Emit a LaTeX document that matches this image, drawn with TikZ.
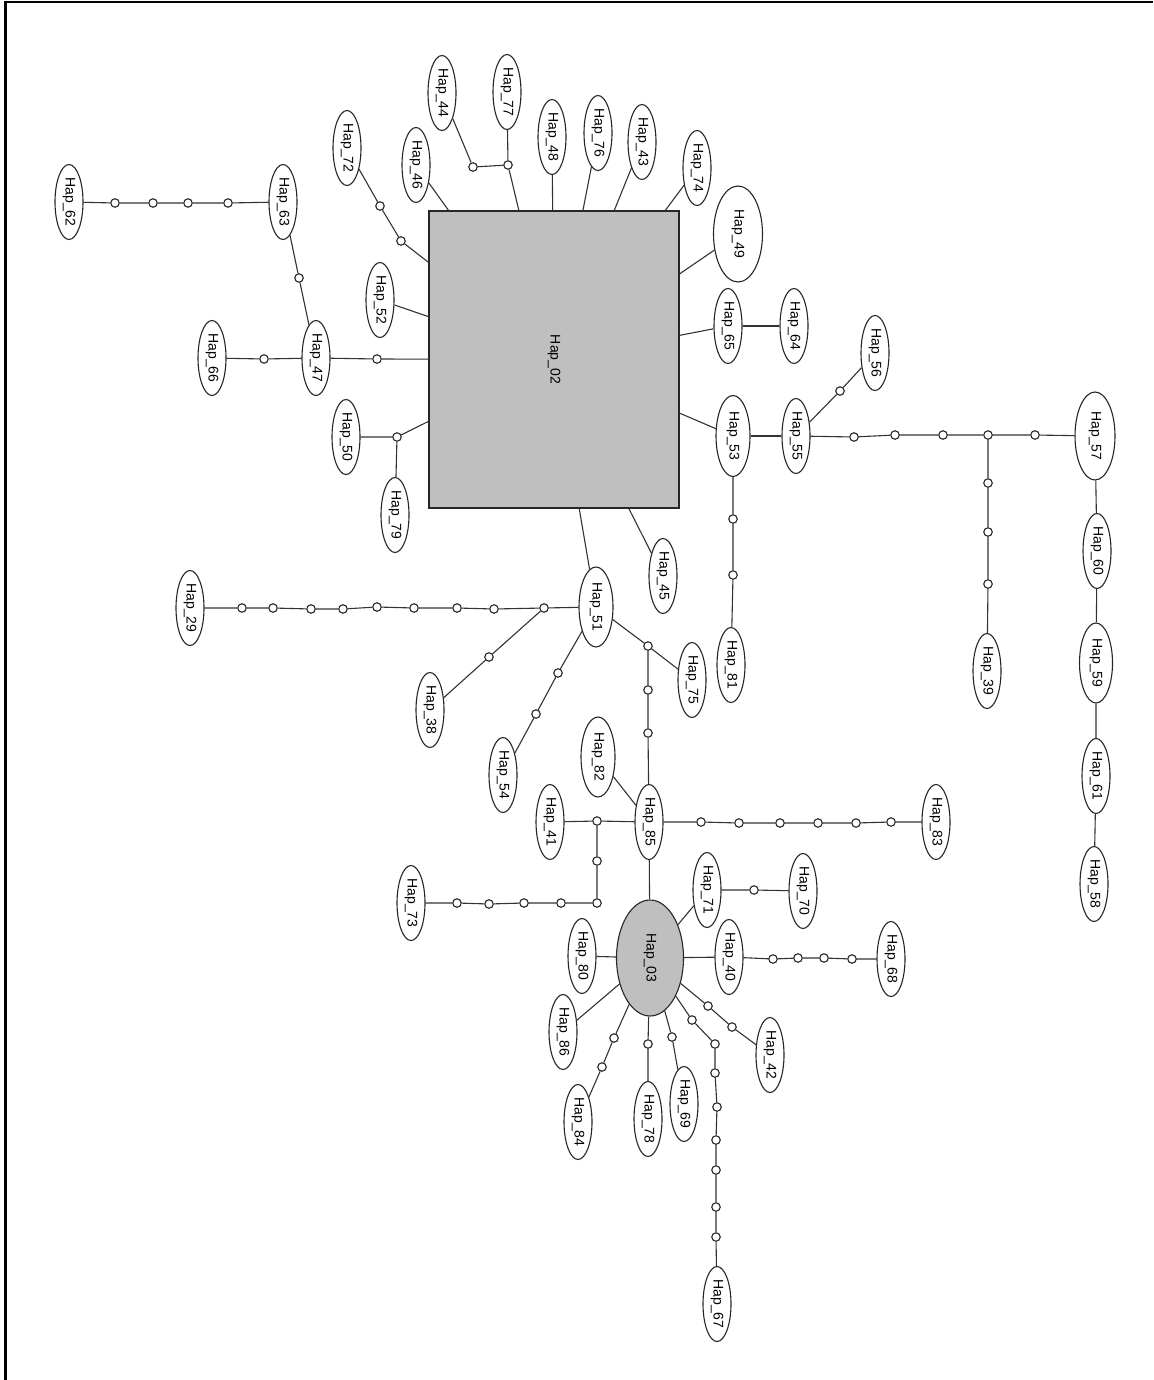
\documentclass[tikz,border=0pt]{standalone}
\usepackage{fontspec}
\setmainfont{Liberation Sans}
\usetikzlibrary{shapes.geometric}
\newcommand{\haplab}[1]{\rotatebox{-90}{Hap\_#1}}
\tikzset{
  hap/.style={ellipse, draw=black!85, fill=white, line width=1.1pt, inner sep=0pt,
    minimum width=28, minimum height=75, font=\fontsize{14}{16}\selectfont},
  core/.style={hap, fill=black!25},
  mv/.style={circle, draw=black!85, fill=white, line width=1.1pt, inner sep=0pt, minimum size=8.5},
  link/.style={draw=black!80, line width=1.1pt},
  frame/.style={draw=black, line width=2.4pt}
}
\begin{document}
\begin{tikzpicture}[x=1pt,y=-1pt]
\useasboundingbox (0,0) rectangle (1153,1380);
\fill[white] (0,0) rectangle (1153,1380);
\draw[frame] (5.3,1380) -- (5.3,1.8) -- (1153,1.8);

% central haplotypes
\node[rectangle, draw=black!85, fill=black!25, line width=1.1pt, minimum width=250, minimum height=297, inner sep=0pt, font=\fontsize{14}{16}\selectfont] (h02) at (554,359.5) {\haplab{02}};
\node[core, minimum width=67, minimum height=116] (h03) at (650,958) {\haplab{03}};

% haplotype ellipses
\node[hap] (h62) at (69,202) {\haplab{62}};
\node[hap] (h63) at (283,202) {\haplab{63}};
\node[hap] (h47) at (316,358) {\haplab{47}};
\node[hap] (h66) at (212,358) {\haplab{66}};
\node[hap] (h72) at (347,148) {\haplab{72}};
\node[hap] (h52) at (380,300) {\haplab{52}};
\node[hap] (h50) at (346,437) {\haplab{50}};
\node[hap] (h79) at (395,515) {\haplab{79}};
\node[hap] (h46) at (416,165) {\haplab{46}};
\node[hap] (h44) at (442,93) {\haplab{44}};
\node[hap] (h77) at (507,92) {\haplab{77}};
\node[hap] (h48) at (552,137) {\haplab{48}};
\node[hap] (h76) at (598,133) {\haplab{76}};
\node[hap] (h43) at (642,142) {\haplab{43}};
\node[hap] (h74) at (697,168) {\haplab{74}};
\node[hap, minimum width=49, minimum height=96] (h49) at (738,234) {\haplab{49}};
\node[hap] (h65) at (728,326) {\haplab{65}};
\node[hap] (h64) at (794,326) {\haplab{64}};
\node[hap, minimum width=34, minimum height=81] (h53) at (733,436) {\haplab{53}};
\node[hap] (h81) at (731,665) {\haplab{81}};
\node[hap] (h55) at (796,436) {\haplab{55}};
\node[hap] (h56) at (875,353) {\haplab{56}};
\node[hap, minimum width=40, minimum height=88] (h57) at (1095,436) {\haplab{57}};
\node[hap] (h39) at (987,671) {\haplab{39}};
\node[hap] (h60) at (1097,551) {\haplab{60}};
\node[hap, minimum width=33, minimum height=80] (h59) at (1096,663) {\haplab{59}};
\node[hap] (h61) at (1096,776) {\haplab{61}};
\node[hap] (h58) at (1094,884) {\haplab{58}};
\node[hap] (h45) at (663,576) {\haplab{45}};
\node[hap, minimum width=34, minimum height=80] (h51) at (596,607) {\haplab{51}};
\node[hap] (h29) at (190,608) {\haplab{29}};
\node[hap] (h38) at (430,710) {\haplab{38}};
\node[hap] (h54) at (503,775) {\haplab{54}};
\node[hap] (h75) at (692,680) {\haplab{75}};
\node[hap] (h85) at (649,822) {\haplab{85}};
\node[hap, minimum width=34, minimum height=80] (h82) at (598,757) {\haplab{82}};
\node[hap] (h41) at (550,822) {\haplab{41}};
\node[hap] (h73) at (411,903) {\haplab{73}};
\node[hap] (h83) at (936,822) {\haplab{83}};
\node[hap] (h71) at (707,890) {\haplab{71}};
\node[hap] (h70) at (803,891) {\haplab{70}};
\node[hap] (h40) at (729,957) {\haplab{40}};
\node[hap] (h68) at (891,959) {\haplab{68}};
\node[hap] (h80) at (582,956) {\haplab{80}};
\node[hap] (h86) at (563,1032) {\haplab{86}};
\node[hap] (h84) at (578,1122) {\haplab{84}};
\node[hap] (h78) at (648,1119) {\haplab{78}};
\node[hap] (h69) at (684,1104) {\haplab{69}};
\node[hap] (h42) at (770,1055) {\haplab{42}};
\node[hap] (h67) at (717,1304) {\haplab{67}};

% median vectors (mutation steps)
\foreach \n/\x/\y in {a1/115/203, a2/153/203, a3/188/203, a4/228/203,
  b1/299/278, c1/264/359, d1/377/359, e1/380/206, e2/401/241, f1/397/437,
  g1/473/167, g2/508/165, i1/733/519, i2/733/575, j1/840/391,
  k1/854/437, k2/895/435, k3/943/435, k4/988/435, k5/1035/435,
  l1/988/483, l2/988/532, l3/988/584,
  n1/242/608, n2/273/608, n3/311/609, n4/343/609, n5/377/607, n6/414/608,
  n7/457/608, n8/494/609, n9/544/608, o1/489/657, p1/558/673, p2/536/714,
  q1/648/646, q2/648/690, q3/648/733,
  r1/597/821, r2/597/861, r3/597/903, r4/561/903, r5/524/903, r6/489/904, r7/457/903,
  s1/701/822, s2/739/823, s3/780/823, s4/818/823, s5/856/823, s6/891/822,
  t1/754/890, u1/773/959, u2/798/958, u3/824/958, u4/852/959,
  v1/614/1038, v2/602/1067, w1/648/1044, x1/672/1037, y1/708/1006, y2/732/1027,
  z1/692/1020, z2/715/1044, z3/715/1073, z4/717/1107, z5/716/1140, z6/716/1170,
  z7/716/1207, z8/716/1237}
  \node[mv] (\n) at (\x,\y) {};

% connectors
\draw[link] (h62) -- (a1) -- (a2) -- (a3) -- (a4) -- (h63);
\draw[link] (h63) -- (b1) -- (h47);
\draw[link] (h66) -- (c1) -- (h47);
\draw[link] (h47) -- (d1) -- (h02);
\draw[link] (h72) -- (e1) -- (e2) -- (h02);
\draw[link] (h52) -- (h02);
\draw[link] (h50) -- (f1) -- (h02);
\draw[link] (f1) -- (h79);
\draw[link] (h46) -- (h02);
\draw[link] (h44) -- (g1) -- (g2) -- (h02);
\draw[link] (h77) -- (g2);
\draw[link] (h48) -- (h02);
\draw[link] (h76) -- (h02);
\draw[link] (h43) -- (h02);
\draw[link] (h74) -- (h02);
\draw[link] (h49) -- (h02);
\draw[link] (h65) -- (h02);
\draw[link] (h65) -- (h64);
\draw[link] (h53) -- (h02);
\draw[link] (h53) -- (i1) -- (i2) -- (h81);
\draw[link] (h53) -- (h55);
\draw[link] (h55) -- (j1) -- (h56);
\draw[link] (h55) -- (k1) -- (k2) -- (k3) -- (k4) -- (k5) -- (h57);
\draw[link] (k4) -- (l1) -- (l2) -- (l3) -- (h39);
\draw[link] (h57) -- (h60) -- (h59) -- (h61) -- (h58);
\draw[link] (h45) -- (h02);
\draw[link] (h51) -- (h02);
\draw[link] (h29) -- (n1) -- (n2) -- (n3) -- (n4) -- (n5) -- (n6) -- (n7) -- (n8) -- (n9) -- (h51);
\draw[link] (n9) -- (o1) -- (h38);
\draw[link] (h51) -- (p1) -- (p2) -- (h54);
\draw[link] (h51) -- (q1) -- (h75);
\draw[link] (q1) -- (q2) -- (q3) -- (h85);
\draw[link] (h82) -- (h85);
\draw[link] (h41) -- (r1) -- (h85);
\draw[link] (r1) -- (r2) -- (r3) -- (r4) -- (r5) -- (r6) -- (r7) -- (h73);
\draw[link] (h85) -- (s1) -- (s2) -- (s3) -- (s4) -- (s5) -- (s6) -- (h83);
\draw[link] (h85) -- (h03);
\draw[link] (h71) -- (h03);
\draw[link] (h71) -- (t1) -- (h70);
\draw[link] (h03) -- (h40) -- (u1) -- (u2) -- (u3) -- (u4) -- (h68);
\draw[link] (h80) -- (h03);
\draw[link] (h86) -- (h03);
\draw[link] (h03) -- (v1) -- (v2) -- (h84);
\draw[link] (h03) -- (w1) -- (h78);
\draw[link] (h03) -- (x1) -- (h69);
\draw[link] (h03) -- (y1) -- (y2) -- (h42);
\draw[link] (h03) -- (z1) -- (z2) -- (z3) -- (z4) -- (z5) -- (z6) -- (z7) -- (z8) -- (h67);
\end{tikzpicture}
\end{document}
